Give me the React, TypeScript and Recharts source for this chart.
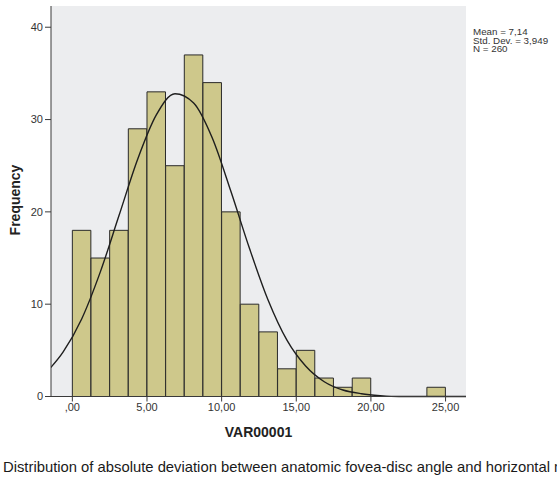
import React from "react";
import {
  ComposedChart,
  Bar,
  Line,
  XAxis,
  YAxis,
  CartesianGrid,
} from "recharts";

// histogram bins are 1,25 wide; values sit at the bin midpoints
const binMids = [
  -1.875, -0.625, 0.625, 1.875, 3.125, 4.375, 5.625, 6.875, 8.125, 9.375,
  10.625, 11.875, 13.125, 14.375, 15.625, 16.875, 18.125, 19.375, 20.625,
  21.875, 23.125, 24.375, 25.625, 26.875,
];
const frequencies = [
  0, 0, 18, 15, 18, 29, 33, 25, 37, 34, 20, 10, 7, 3, 5, 2, 1, 2, 0, 0, 0, 1,
  0, 0,
];
// fitted normal curve height at each midpoint
const normalCurve = [
  2.4, 4.8, 8.4, 13.5, 19.6, 25.7, 30.5, 32.8, 31.8, 28.0, 22.2, 16.0, 10.4,
  6.1, 3.3, 1.6, 0.7, 0.3, 0.1, 0, 0, 0, 0, 0,
];
const xTicks = [0, 5, 10, 15, 20, 25];
const yTicks = [0, 10, 20, 30, 40];
const statLines = ["Mean = 7,14", "Std. Dev. = 3,949", "N = 260"];

const rows = binMids.map((mid, i) => ({
  mid,
  freq: frequencies[i],
  curve: normalCurve[i],
}));

const fmtX = (v: number) => {
  const s = v.toFixed(2).replace(".", ",");
  return s.startsWith("0,") ? s.slice(1) : s;
};

const font = "'Liberation Sans', Arial, sans-serif";
const tickStyle = { fontSize: 11, fill: "#333", fontFamily: font };

export default function App() {
  return (
    <div
      style={{
        position: "absolute",
        left: 0,
        top: 0,
        width: 557,
        height: 480,
        background: "#fff",
        overflow: "hidden",
        fontFamily: font,
      }}
    >
      <ComposedChart
        width={557}
        height={480}
        data={rows}
        margin={{ top: 6, right: 91, left: 0, bottom: 53.5 }}
        barCategoryGap={0}
        barGap={0}
      >
        <CartesianGrid fill="#ecedef" horizontal={false} vertical={false} />
        <XAxis
          dataKey="mid"
          type="number"
          domain={[-1.43, 26.37]}
          allowDataOverflow
          ticks={xTicks}
          tickFormatter={fmtX}
          height={30}
          tickSize={5}
          tickMargin={2}
          tick={tickStyle}
          stroke="#3a3a3a"
        />
        <XAxis
          xAxisId="top"
          dataKey="mid"
          type="number"
          orientation="top"
          domain={[-1.43, 26.37]}
          allowDataOverflow
          height={0}
          tick={false}
          tickLine={false}
          stroke="#777"
        />
        <YAxis
          type="number"
          domain={[0, 42.3]}
          ticks={yTicks}
          width={51}
          tickSize={6}
          tickMargin={2}
          tick={tickStyle}
          stroke="#3a3a3a"
        />
        <YAxis
          yAxisId="right"
          orientation="right"
          domain={[0, 42.3]}
          width={0}
          tick={false}
          tickLine={false}
          stroke="#666"
        />
        <Bar
          dataKey="freq"
          fill="#cec88b"
          stroke="#2a2a2a"
          strokeWidth={1}
          barSize={18.5}
          isAnimationActive={false}
        />
        <Line
          dataKey="curve"
          type="monotone"
          dot={false}
          stroke="#1e1e1e"
          strokeWidth={1.4}
          isAnimationActive={false}
        />
      </ComposedChart>

      <div
        style={{
          position: "absolute",
          left: 0,
          top: 200,
          width: 30,
          height: 0,
        }}
      >
        <div
          style={{
            position: "absolute",
            left: 15,
            top: 0,
            transform: "translate(-50%, -50%) rotate(-90deg)",
            fontSize: 14,
            fontWeight: 700,
            color: "#222",
            whiteSpace: "nowrap",
          }}
        >
          Frequency
        </div>
      </div>

      <div
        style={{
          position: "absolute",
          left: 51,
          width: 415,
          top: 424,
          textAlign: "center",
          fontSize: 14,
          fontWeight: 700,
          color: "#222",
        }}
      >
        VAR00001
      </div>

      {/* summary statistics beside the plot frame */}
      <div
        style={{
          position: "absolute",
          left: 473,
          top: 28,
          fontSize: 8.5,
          lineHeight: "8.5px",
          color: "#333",
          whiteSpace: "nowrap",
          transform: "scaleX(1.15)",
          transformOrigin: "left top",
        }}
      >
        {statLines.map((t) => (
          <div key={t}>{t}</div>
        ))}
      </div>

      <div
        style={{
          position: "absolute",
          left: 3,
          top: 459,
          fontSize: 14.8,
          color: "#1a1a1a",
          whiteSpace: "nowrap",
        }}
      >
        Distribution of absolute deviation between anatomic fovea-disc angle and
        horizontal meridian
      </div>
    </div>
  );
}
